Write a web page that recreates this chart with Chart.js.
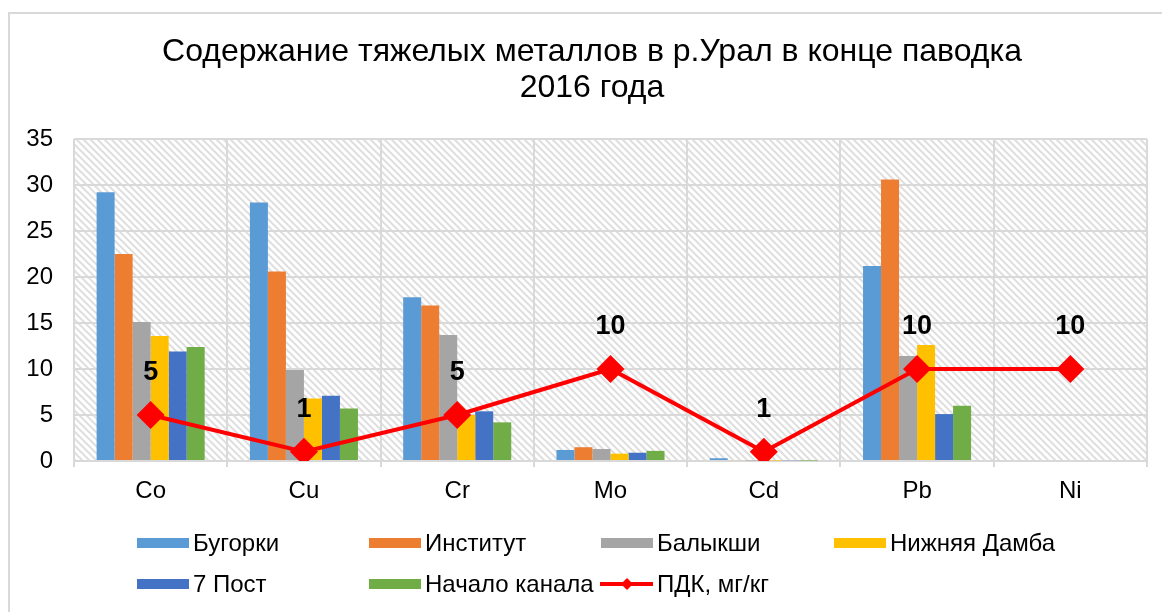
<!DOCTYPE html>
<html lang="ru">
<head>
<meta charset="utf-8">
<title>Тяжелые металлы в р.Урал</title>
<script src="https://cdn.jsdelivr.net/npm/chart.js@4.4.1/dist/chart.umd.min.js"></script>
<style>
  html, body { margin: 0; padding: 0; background: #fff; overflow: hidden; }
  #wrap { position: relative; width: 1162px; height: 612px; overflow: hidden; }
  #frame {
    position: absolute; left: 8px; top: 12px; width: 1200px; height: 700px;
    border: 2px solid #d9d9d9; box-sizing: border-box; pointer-events: none;
  }
  #chart { position: absolute; left: 0; top: 0; }
  #legend {
    position: absolute; left: 0; top: 0; width: 1162px; height: 612px;
    font-family: "Liberation Sans", Arial, sans-serif; font-size: 24px; color: #000;
  }
  .lg-item { position: absolute; display: flex; align-items: center; height: 30px; white-space: nowrap; }
  .lg-item canvas { margin-right: 4px; }
</style>
</head>
<body>
<div id="wrap">
  <div id="frame"></div>
  <canvas id="chart" width="1162" height="612"></canvas>
  <div id="legend"></div>
</div>
<script>
/* Содержание тяжелых металлов, мг/кг */
const titleLines = ["Содержание тяжелых металлов в р.Урал в конце паводка", "2016 года"];
const metals = ["Co", "Cu", "Cr", "Mo", "Cd", "Pb", "Ni"];
const yTicks = [0, 5, 10, 15, 20, 25, 30, 35];

const bugorki   = [29.2, 28.1, 17.8, 1.2, 0.3,  21.2, null];
const institut  = [22.5, 20.6, 16.9, 1.5, 0.1,  30.6, null];
const balykshi  = [15.1,  9.9, 13.7, 1.3, 0.05, 11.4, null];
const nizhDamba = [13.6,  6.8,  5.0, 0.8, 0.05, 12.6, null];
const post7     = [11.9,  7.1,  5.4, 0.9, 0.08,  5.1, null];
const nachKanal = [12.4,  5.7,  4.2, 1.1, 0.05,  6.0, null];
const pdk       = [5, 1, 5, 10, 1, 10, 10];

const colors = {
  bugorki: "#5b9bd5",
  institut: "#ed7d31",
  balykshi: "#a5a5a5",
  damba: "#ffc000",
  post7: "#4472c4",
  kanal: "#70ad47",
  pdk: "#ff0000",
  grid: "#d9d9d9",
};

const FONT = '"Liberation Sans", Arial, sans-serif';

// diagonal hatch for the plot background
function makeHatch() {
  const s = 7;
  const c = document.createElement("canvas");
  c.width = s; c.height = s;
  const g = c.getContext("2d");
  g.fillStyle = "#fff";
  g.fillRect(0, 0, s, s);
  g.strokeStyle = "#dfdfdf";
  g.lineWidth = 2;
  g.beginPath();
  for (const off of [-s, 0, s]) {
    g.moveTo(off - 2, -2);
    g.lineTo(off + s + 2, s + 2);
  }
  g.stroke();
  return g.createPattern(c, "repeat");
}

const hatchPlugin = {
  id: "hatch",
  beforeDraw(chart) {
    const { ctx, chartArea: a } = chart;
    ctx.save();
    ctx.fillStyle = makeHatch();
    ctx.fillRect(a.left, a.top, a.right - a.left, a.bottom - a.top);
    ctx.restore();
  },
};

// title centred on the outer frame rather than on the canvas
const frameTitle = {
  id: "frameTitle",
  afterDraw(chart) {
    const { ctx } = chart;
    ctx.save();
    ctx.font = "32px " + FONT;
    ctx.fillStyle = "#000";
    ctx.textAlign = "center";
    ctx.textBaseline = "middle";
    titleLines.forEach((line, i) => ctx.fillText(line, 592, 52 + i * 36));
    ctx.restore();
  },
};

const pdkLabels = {
  id: "pdkLabels",
  afterDatasetsDraw(chart) {
    const { ctx } = chart;
    const idx = chart.data.datasets.findIndex((d) => d.type === "line");
    const meta = chart.getDatasetMeta(idx);
    ctx.save();
    ctx.font = "bold 27px " + FONT;
    ctx.fillStyle = "#000";
    ctx.textAlign = "center";
    ctx.textBaseline = "middle";
    meta.data.forEach((pt, i) => {
      ctx.fillText(String(pdk[i]), pt.x, pt.y - 42);
    });
    ctx.restore();
  },
};

const barSet = (label, data, color) => ({
  label,
  data,
  backgroundColor: color,
  borderWidth: 0,
  categoryPercentage: 0.705,
  barPercentage: 1,
  order: 2,
});

const datasets = [
  barSet("Бугорки", bugorki, colors.bugorki),
  barSet("Институт", institut, colors.institut),
  barSet("Балыкши", balykshi, colors.balykshi),
  barSet("Нижняя Дамба", nizhDamba, colors.damba),
  barSet("7 Пост", post7, colors.post7),
  barSet("Начало канала", nachKanal, colors.kanal),
  {
    type: "line",
    label: "ПДК, мг/кг",
    data: pdk,
    borderColor: colors.pdk,
    backgroundColor: colors.pdk,
    borderWidth: 4,
    pointStyle: "rectRot",
    pointRadius: 14,
    pointBorderWidth: 0,
    tension: 0,
    order: 1,
  },
];

const chart = new Chart(document.getElementById("chart"), {
  type: "bar",
  data: { labels: metals, datasets },
  plugins: [hatchPlugin, pdkLabels, frameTitle],
  options: {
    responsive: false,
    animation: false,
    devicePixelRatio: 1,
    layout: { padding: { top: 139, right: 15, left: 0, bottom: 0 } },
    plugins: {
      legend: { display: false },
      tooltip: { enabled: false },
      title: { display: false },
    },
    scales: {
      x: {
        grid: { color: colors.grid, lineWidth: 2, offset: true, drawTicks: true, tickLength: 6 },
        border: { color: colors.grid, width: 2 },
        ticks: { color: "#000", font: { family: FONT, size: 24 }, padding: 10 },
        afterFit(scale) { scale.height = 151; },
      },
      y: {
        min: 0,
        max: 35,
        afterBuildTicks(scale) { scale.ticks = yTicks.map((v) => ({ value: v })); },
        grid: { color: colors.grid, lineWidth: 2, drawTicks: false },
        border: { display: false },
        ticks: { color: "#000", font: { family: FONT, size: 24 }, padding: 21 },
        afterFit(scale) { scale.width = 74; },
      },
    },
  },
});

// legend laid out in fixed columns, like the original
function buildLegend() {
  const box = document.getElementById("legend");
  const cols = [136, 368, 600, 833];
  const rows = [543, 584];
  chart.data.datasets.forEach((ds, i) => {
    const item = document.createElement("div");
    item.className = "lg-item";
    item.style.left = cols[i % 4] + "px";
    item.style.top = (rows[Math.floor(i / 4)] - 15) + "px";
    const sw = document.createElement("canvas");
    sw.width = 53; sw.height = 16;
    const g = sw.getContext("2d");
    if (ds.type === "line") {
      g.strokeStyle = ds.borderColor;
      g.lineWidth = 4;
      g.beginPath(); g.moveTo(0, 8); g.lineTo(53, 8); g.stroke();
      g.fillStyle = ds.borderColor;
      g.beginPath();
      g.moveTo(27, 2); g.lineTo(33, 8); g.lineTo(27, 14); g.lineTo(21, 8);
      g.closePath(); g.fill();
    } else {
      g.fillStyle = ds.backgroundColor;
      g.fillRect(1, 3, 52, 10);
    }
    item.appendChild(sw);
    const t = document.createElement("span");
    t.textContent = ds.label;
    item.appendChild(t);
    box.appendChild(item);
  });
}
buildLegend();
</script>
</body>
</html>
